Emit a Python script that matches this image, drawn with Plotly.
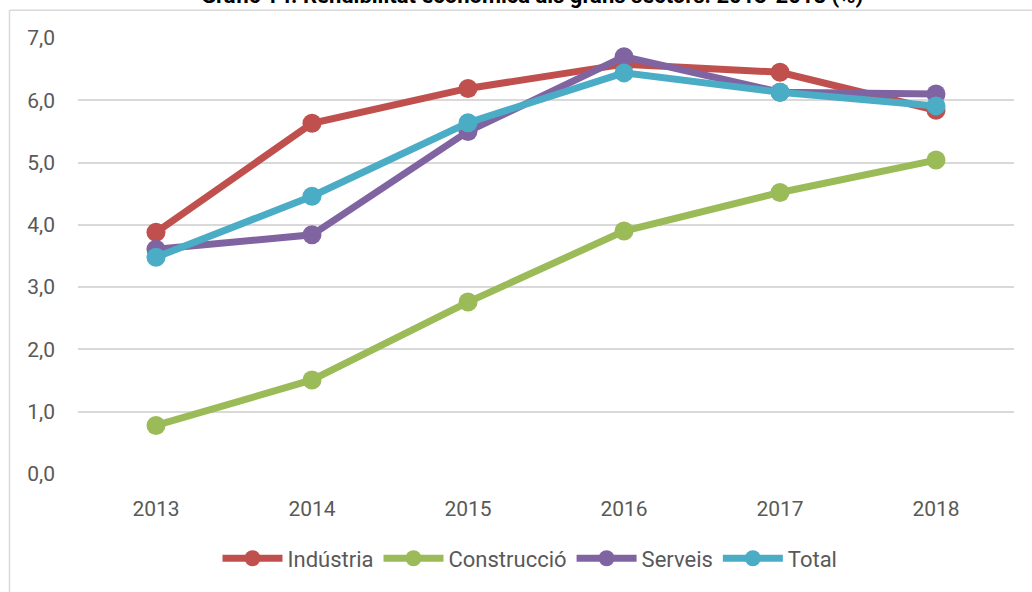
import plotly.graph_objects as go

years = ["2013", "2014", "2015", "2016", "2017", "2018"]
industria = [3.88, 5.63, 6.19, 6.58, 6.45, 5.84]
construccio = [0.78, 1.51, 2.76, 3.90, 4.52, 5.04]
serveis = [3.61, 3.84, 5.50, 6.70, 6.13, 6.10]
total = [3.48, 4.46, 5.64, 6.44, 6.13, 5.91]
y_ticks = [0, 1, 2, 3, 4, 5, 6, 7]
y_tick_labels = ["0,0", "1,0", "2,0", "3,0", "4,0", "5,0", "6,0", "7,0"]

series = [
    ("Indústria", industria, "#C0504D"),
    ("Construcció", construccio, "#9BBB59"),
    ("Serveis", serveis, "#8064A2"),
    ("Total", total, "#4BACC6"),
]

FONT = "Roboto, 'Open Sans', sans-serif"

fig = go.Figure()
for name, vals, col in series:
    fig.add_trace(go.Scatter(
        x=years, y=vals, name=name, mode="lines+markers",
        line=dict(color=col, width=7),
        marker=dict(color=col, size=19),
    ))

W, H = 1032, 592
L, R, T, B = 78, 18, 38, 115
pw, ph = W - L - R, H - T - B

def px_x(px):
    return (px - L) / pw

def px_y(py):
    return (H - B - py) / ph

fig.update_layout(
    width=W, height=H,
    margin=dict(l=L, r=R, t=T, b=B),
    paper_bgcolor="white", plot_bgcolor="white",
    font=dict(family=FONT, size=21, color="#595959"),
    showlegend=True,
    legend=dict(orientation="h", x=px_x(530), xanchor="center", y=px_y(562), yanchor="middle",
                font=dict(size=22, color="#595959"), itemwidth=60, tracegroupgap=0,
                traceorder="normal"),
    xaxis=dict(type="category", range=[-0.5, 5.5], showgrid=False, zeroline=False,
               showline=False, ticks="", tickfont=dict(size=21, color="#595959"),
               ticklabelstandoff=20),
    yaxis=dict(range=[0, 7], tickvals=y_ticks, ticktext=y_tick_labels,
               showgrid=True, gridcolor="#D9D9D9", gridwidth=2, zeroline=False,
               showline=False, ticks="", tickfont=dict(size=21, color="#595959"),
               ticklabelstandoff=22),
    shapes=[
        dict(type="line", xref="paper", yref="paper", x0=px_x(9.5), x1=px_x(1040),
             y0=px_y(10), y1=px_y(10), line=dict(color="#D9D9D9", width=1.5)),
        dict(type="line", xref="paper", yref="paper", x0=px_x(9.5), x1=px_x(9.5),
             y0=px_y(10), y1=px_y(600), line=dict(color="#D9D9D9", width=1.5)),
    ],
    annotations=[
        dict(text="<b>Gràfic 14. Rendibilitat econòmica als grans sectors. 2013-2018 (%)</b>",
             xref="paper", yref="paper", x=px_x(532), y=px_y(10), xanchor="center",
             yanchor="bottom", showarrow=False,
             font=dict(family=FONT, size=22, color="#000000")),
    ],
)

fig.write_html("out.html", config={"displayModeBar": False},
               post_script="document.body.style.margin='0';document.body.style.overflow='hidden';")
